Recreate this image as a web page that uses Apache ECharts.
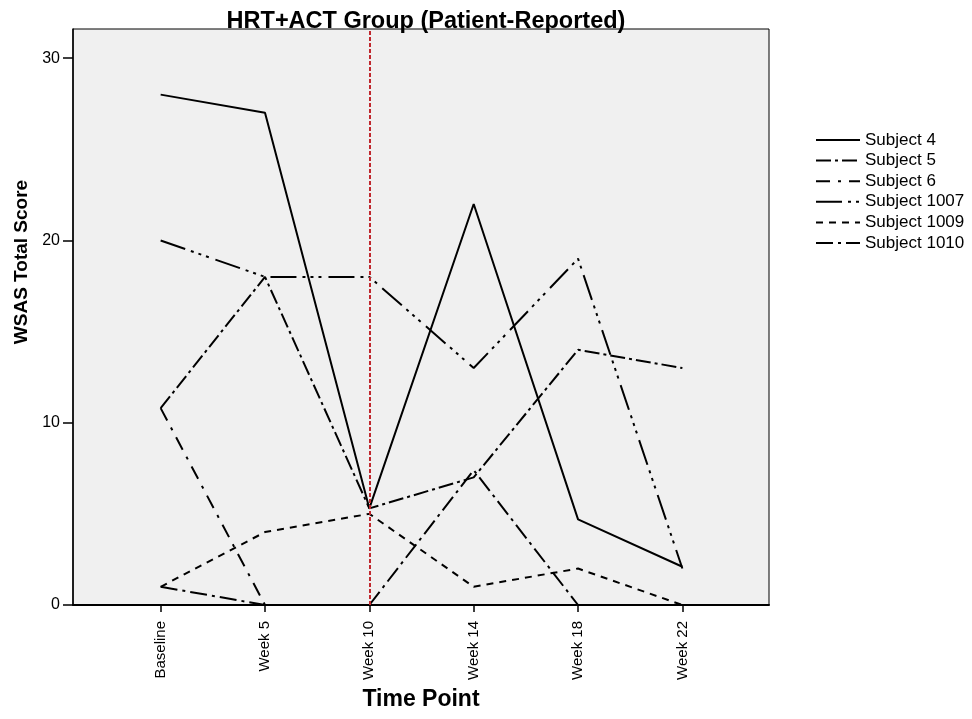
<!DOCTYPE html>
<html>
<head>
<meta charset="utf-8">
<script src="https://cdn.jsdelivr.net/npm/echarts@6/dist/echarts.min.js"></script>
<style>html,body{margin:0;padding:0;background:#fff;}#main{width:972px;height:719px;}</style>
</head>
<body>
<div id="main"></div>
<script>
const categories = ['Baseline', 'Week 5', 'Week 10', 'Week 14', 'Week 18', 'Week 22'];
const subjectNames = ['Subject 4', 'Subject 5', 'Subject 6', 'Subject 1007', 'Subject 1009', 'Subject 1010'];
const subject4 = [28, 27, 5.3, 22, 4.7, 2.1];
const subject5 = [10.8, 18, 5.3, 7, 14, 13];
const subject6 = [10.8, 0, 0, 0, 0, 0];
const subject1007 = [20, 18, 18, 13, 19, 2];
const subject1009 = [1, 4, 5, 1, 2, 0];
const subject1010 = [1, 0, 0, 7.4, 0, 0];
const yTicks = [0, 10, 20, 30];
const baselineMarker = 'Week 10';

const seriesValues = [subject4, subject5, subject6, subject1007, subject1009, subject1010];
const dashes = ['solid', [15, 4, 3, 4], [14, 8, 3, 8], [26, 6, 3, 5, 3, 5, 3, 7], [7, 6], [17, 5, 3, 5]];
const font = 'Liberation Sans, Arial, sans-serif';
const xIdx = categories.map((c, i) => i);

const series = seriesValues.map((vals, k) => {
  const s = {
    name: subjectNames[k],
    type: 'line',
    symbol: 'none',
    silent: true,
    lineStyle: { color: '#000', width: 2, type: dashes[k] },
    itemStyle: { color: '#000' },
    data: vals.map((v, i) => [i, v])
  };
  if (k === 0) {
    s.markLine = {
      silent: true,
      symbol: ['none', 'none'],
      label: { show: false },
      lineStyle: { color: '#c0282e', type: [4, 2], width: 2 },
      data: [{ xAxis: categories.indexOf(baselineMarker) }]
    };
  }
  return s;
});

const chart = echarts.init(document.getElementById('main'));
chart.setOption({
  animation: false,
  backgroundColor: '#fff',
  title: {
    text: 'HRT+ACT Group (Patient-Reported)',
    left: 421, top: 5, textAlign: 'center',
    textStyle: { fontFamily: font, fontWeight: 'bold', fontSize: 23.5, color: '#000' }
  },
  legend: {
    orient: 'vertical', left: 815, top: 130, padding: 0,
    itemWidth: 44, itemHeight: 10, itemGap: 0.6,
    data: subjectNames,
    itemStyle: { color: 'transparent', borderWidth: 0, opacity: 0 },
    textStyle: { fontFamily: font, fontSize: 17, color: '#000', lineHeight: 20 }
  },
  grid: {
    left: 73, top: 29, right: 203, bottom: 114,
    show: true, backgroundColor: '#f0f0f0', borderColor: '#000', borderWidth: 1
  },
  xAxis: {
    type: 'value', min: -0.84, max: 5.83,
    name: 'Time Point', nameLocation: 'middle', nameGap: 82,
    nameTextStyle: { fontFamily: font, fontWeight: 'bold', fontSize: 23, color: '#000' },
    axisLine: { show: true, onZero: false, lineStyle: { color: '#000', width: 2 } },
    axisTick: { show: true, length: 7, customValues: xIdx, lineStyle: { color: '#000', width: 1.5 } },
    axisLabel: {
      customValues: xIdx, rotate: 90, margin: 16,
      fontFamily: font, fontSize: 15, color: '#000',
      formatter: v => categories[Math.round(v)]
    },
    splitLine: { show: false }
  },
  yAxis: {
    type: 'value', min: 0, max: 31.6,
    name: 'WSAS Total Score', nameLocation: 'middle', nameGap: 41, nameRotate: 90,
    nameTextStyle: { fontFamily: font, fontWeight: 'bold', fontSize: 19, color: '#000', padding: [0, 0, 0, 110] },
    axisLine: { show: true, onZero: false, lineStyle: { color: '#000', width: 1.5 } },
    axisTick: { show: true, length: 10, customValues: yTicks, lineStyle: { color: '#000', width: 1.5 } },
    axisLabel: { customValues: yTicks, margin: 13, fontFamily: font, fontSize: 16, color: '#000' },
    splitLine: { show: false }
  },
  series: series
});
</script>
</body>
</html>
